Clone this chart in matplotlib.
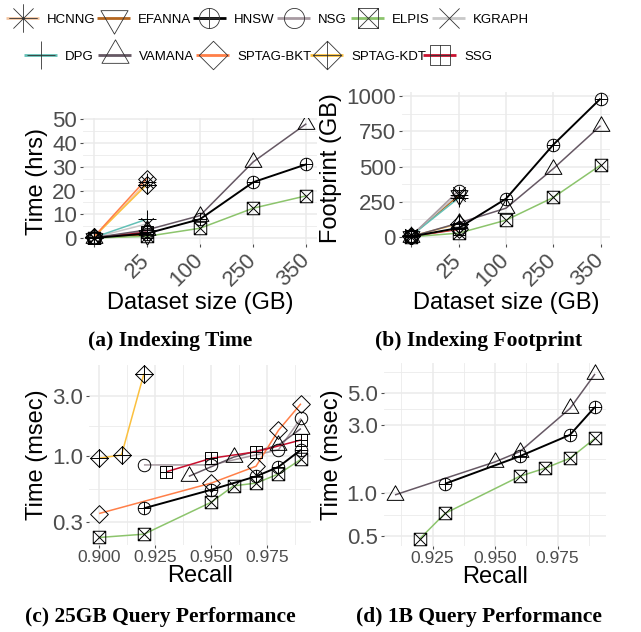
import numpy as np
import matplotlib
matplotlib.use("Agg")
import matplotlib.pyplot as plt
from matplotlib.path import Path
from matplotlib.lines import Line2D

# ---------------- data ----------------
ALGOS = ["HCNNG", "EFANNA", "HNSW", "NSG", "ELPIS", "KGRAPH",
         "DPG", "VAMANA", "SPTAG-BKT", "SPTAG-KDT", "SSG"]
COLORS = ["#F4C6A2", "#B4661F", "#000000", "#A89BA2", "#8CC46C", "#C8C8C8",
          "#62C0B6", "#665864", "#FF7F48", "#FBC03E", "#C8102E"]

SIZE_LABELS = ["", "25", "100", "250", "350"]

# (a) indexing time (hrs), by dataset size position
TIME_HCNNG = [0.3, 23.5]
TIME_EFANNA = [0.2, 1.5]
TIME_HNSW = [0.1, 2.0, 8.0, 23.5, 31.0]
TIME_NSG = [0.2, 3.0]
TIME_ELPIS = [0.1, 0.8, 4.2, 12.6, 17.8]
TIME_KGRAPH = [0.3, 6.0]
TIME_DPG = [0.3, 8.0]
TIME_VAMANA = [0.2, 3.5, 9.5, 32.0, 48.0]
TIME_BKT = [0.5, 25.0]
TIME_KDT = [0.4, 22.5]
TIME_SSG = [0.2, 2.5]

# (b) indexing footprint (GB)
FOOT_HCNNG = [12, 300]
FOOT_EFANNA = [10, 295]
FOOT_HNSW = [4, 65, 272, 655, 982]
FOOT_NSG = [10, 330]
FOOT_ELPIS = [2, 28, 120, 281, 510]
FOOT_KGRAPH = [12, 310]
FOOT_DPG = [11, 278]
FOOT_VAMANA = [4, 100, 205, 485, 790]
FOOT_BKT = [5, 60]
FOOT_KDT = [6, 95]
FOOT_SSG = [5, 55]

# (c) 25GB query performance: recall vs time (msec)
Q25_KDT_X = [0.900, 0.910, 0.920]
Q25_KDT_Y = [0.96, 1.02, 4.5]
Q25_BKT_X = [0.900, 0.950, 0.970, 0.980, 0.990]
Q25_BKT_Y = [0.35, 0.61, 0.83, 1.6, 2.6]
Q25_NSG_X = [0.920, 0.950, 0.980, 0.990]
Q25_NSG_Y = [0.85, 0.85, 1.12, 1.99]
Q25_HNSW_X = [0.920, 0.950, 0.970, 0.980, 0.990]
Q25_HNSW_Y = [0.385, 0.54, 0.69, 0.82, 1.12]
Q25_ELPIS_X = [0.900, 0.920, 0.950, 0.960, 0.970, 0.980, 0.990]
Q25_ELPIS_Y = [0.226, 0.24, 0.43, 0.58, 0.61, 0.72, 0.94]
Q25_VAMANA_X = [0.940, 0.960, 0.980, 0.990]
Q25_VAMANA_Y = [0.69, 0.98, 1.22, 1.65]
Q25_SSG_X = [0.930, 0.950, 0.970, 0.990]
Q25_SSG_Y = [0.75, 0.96, 1.08, 1.34]

# (d) 1B query performance
Q1B_VAMANA_X = [0.910, 0.950, 0.960, 0.980, 0.990]
Q1B_VAMANA_Y = [0.97, 1.65, 1.95, 3.9, 6.8]
Q1B_HNSW_X = [0.930, 0.960, 0.980, 0.990]
Q1B_HNSW_Y = [1.16, 1.81, 2.55, 4.0]
Q1B_ELPIS_X = [0.920, 0.930, 0.960, 0.970, 0.980, 0.990]
Q1B_ELPIS_Y = [0.48, 0.72, 1.31, 1.49, 1.75, 2.41]

# ---------------- ggplot-like open markers ----------------
def segs(pairs):
    verts, codes = [], []
    for a, b in pairs:
        verts += [a, b]
        codes += [Path.MOVETO, Path.LINETO]
    return Path(verts, codes)

def poly(pts):
    return Path(pts + [pts[0]], [Path.MOVETO] + [Path.LINETO] * (len(pts) - 1) + [Path.CLOSEPOLY])

S2 = np.sqrt(2)
CIRC = Path.unit_circle()
SQUARE = poly([(-1, -1), (1, -1), (1, 1), (-1, 1)])
TRI_UP = poly([(0, 1.555), (1.347, -0.778), (-1.347, -0.778)])
TRI_DN = poly([(0, -1.555), (1.347, 0.778), (-1.347, 0.778)])
DIAM = poly([(0, S2), (S2, 0), (0, -S2), (-S2, 0)])
PLUS1 = segs([((-1, 0), (1, 0)), ((0, -1), (0, 1))])
PLUS2 = segs([((-S2, 0), (S2, 0)), ((0, -S2), (0, S2))])
CROSS = segs([((-1, -1), (1, 1)), ((-1, 1), (1, -1))])

MARKERS = {
    "HCNNG": Path.make_compound_path(CROSS, PLUS2),
    "EFANNA": TRI_DN,
    "HNSW": Path.make_compound_path(CIRC, PLUS1),
    "NSG": CIRC,
    "ELPIS": Path.make_compound_path(SQUARE, CROSS),
    "KGRAPH": CROSS,
    "DPG": PLUS2,
    "VAMANA": TRI_UP,
    "SPTAG-BKT": DIAM,
    "SPTAG-KDT": Path.make_compound_path(DIAM, PLUS2),
    "SSG": Path.make_compound_path(SQUARE, PLUS1),
}

def msize(name, base):
    return base * np.max(np.abs(MARKERS[name].vertices))

COLOR_OF = dict(zip(ALGOS, COLORS))

# ---------------- figure ----------------
W, H = 641, 632
fig = plt.figure(figsize=(W / 100, H / 100), dpi=100)
plt.rcParams['font.family'] = ['Liberation Sans', 'DejaVu Sans']

def px_axes(l, t, r, b):
    return fig.add_axes([l / W, 1 - b / H, (r - l) / W, (b - t) / H])

GRID = "#EBEBEB"
TICKC = "#4D4D4D"
BASE = 9.0

def style(ax):
    for s in ax.spines.values():
        s.set_visible(False)
    ax.set_axisbelow(True)
    ax.grid(which='major', color=GRID, lw=1.1)
    ax.grid(which='minor', color=GRID, lw=0.6)
    ax.tick_params(which='major', length=2.5, width=0.8, color=TICKC, labelcolor=TICKC)
    ax.tick_params(which='minor', length=0)

def draw(ax, name, x, y, lw=1.1):
    c = COLOR_OF[name]
    ax.plot(x, y, color=c, lw=(1.4 if name == "HNSW" else lw), zorder=2, solid_capstyle='butt')
    ax.plot(x, y, ls='none', marker=MARKERS[name], ms=msize(name, BASE),
            mfc='none', mec='black', mew=0.7, zorder=3)

# (a)
axa = px_axes(83, 118, 317, 244)
style(axa)
time_series = [("HCNNG", TIME_HCNNG), ("EFANNA", TIME_EFANNA), ("KGRAPH", TIME_KGRAPH),
               ("DPG", TIME_DPG), ("NSG", TIME_NSG), ("SSG", TIME_SSG),
               ("SPTAG-KDT", TIME_KDT), ("SPTAG-BKT", TIME_BKT), ("ELPIS", TIME_ELPIS),
               ("VAMANA", TIME_VAMANA), ("HNSW", TIME_HNSW)]
for name, vals in time_series:
    draw(axa, name, np.arange(1, len(vals) + 1), vals)
axa.set_xlim(0.8, 5.2)
axa.set_ylim(-2.4, 50.4)
axa.set_yticks([0, 10, 20, 30, 40, 50])
axa.set_yticks([5, 15, 25, 35, 45], minor=True)
axa.set_xticks(np.arange(1, len(SIZE_LABELS) + 1))
axa.set_xticklabels(SIZE_LABELS, rotation=45, ha='right', va='center', rotation_mode='anchor')
axa.tick_params(axis='y', labelsize=16, pad=2)
axa.tick_params(axis='x', labelsize=16, pad=7)
axa.set_ylabel("Time (hrs)", fontsize=17, labelpad=3)
axa.set_xlabel("Dataset size (GB)", fontsize=17, labelpad=1)

# (b)
axb = px_axes(402, 92, 610, 244)
style(axb)
foot_series = [("HCNNG", FOOT_HCNNG), ("EFANNA", FOOT_EFANNA), ("KGRAPH", FOOT_KGRAPH),
               ("DPG", FOOT_DPG), ("NSG", FOOT_NSG), ("SSG", FOOT_SSG),
               ("SPTAG-KDT", FOOT_KDT), ("SPTAG-BKT", FOOT_BKT), ("ELPIS", FOOT_ELPIS),
               ("VAMANA", FOOT_VAMANA), ("HNSW", FOOT_HNSW)]
for name, vals in foot_series:
    draw(axb, name, np.arange(1, len(vals) + 1), vals)
axb.set_xlim(0.8, 5.2)
axb.set_ylim(-49, 1029)
axb.set_yticks([0, 250, 500, 750, 1000])
axb.set_yticks([125, 375, 625, 875], minor=True)
axb.set_xticks(np.arange(1, len(SIZE_LABELS) + 1))
axb.set_xticklabels(SIZE_LABELS, rotation=45, ha='right', va='center', rotation_mode='anchor')
axb.tick_params(axis='y', labelsize=16, pad=2)
axb.tick_params(axis='x', labelsize=16, pad=7)
axb.set_ylabel("Footprint (GB)", fontsize=17, labelpad=3)
axb.set_xlabel("Dataset size (GB)", fontsize=17, labelpad=1)

# (c)
axc = px_axes(89, 365, 311, 545)
style(axc)
axc.set_yscale('log')
q25 = [("NSG", Q25_NSG_X, Q25_NSG_Y), ("VAMANA", Q25_VAMANA_X, Q25_VAMANA_Y),
       ("SPTAG-KDT", Q25_KDT_X, Q25_KDT_Y), ("SPTAG-BKT", Q25_BKT_X, Q25_BKT_Y),
       ("ELPIS", Q25_ELPIS_X, Q25_ELPIS_Y), ("HNSW", Q25_HNSW_X, Q25_HNSW_Y),
       ("SSG", Q25_SSG_X, Q25_SSG_Y)]
for name, x, y in q25:
    draw(axc, name, x, y)
axc.set_xlim(0.8955, 0.9945)
axc.set_ylim(0.197, 5.27)
axc.set_yticks([0.3, 1.0, 3.0])
axc.set_yticklabels(["0.3", "1.0", "3.0"])
axc.set_yticks([0.5477, 1.732], minor=True)
axc.set_yticklabels([], minor=True)
axc.set_xticks([0.900, 0.925, 0.950, 0.975])
axc.set_xticklabels(["0.900", "0.925", "0.950", "0.975"])
axc.set_xticks([0.9125, 0.9375, 0.9625, 0.9875], minor=True)
axc.tick_params(axis='y', labelsize=16, pad=2)
axc.tick_params(axis='x', labelsize=12.5, pad=1)
axc.set_ylabel("Time (msec)", fontsize=17, labelpad=3)
axc.set_xlabel("Recall", fontsize=17, labelpad=0)

# (d)
axd = px_axes(384, 363, 606, 546)
style(axd)
axd.set_yscale('log')
q1b = [("VAMANA", Q1B_VAMANA_X, Q1B_VAMANA_Y), ("ELPIS", Q1B_ELPIS_X, Q1B_ELPIS_Y),
       ("HNSW", Q1B_HNSW_X, Q1B_HNSW_Y)]
for name, x, y in q1b:
    draw(axd, name, x, y)
axd.set_xlim(0.9056, 0.9944)
axd.set_ylim(0.426, 8.11)
axd.set_yticks([0.5, 1.0, 3.0, 5.0])
axd.set_yticklabels(["0.5", "1.0", "3.0", "5.0"])
axd.set_yticks([0.7071, 1.732, 3.873, 7.071], minor=True)
axd.set_yticklabels([], minor=True)
axd.set_xticks([0.925, 0.950, 0.975])
axd.set_xticklabels(["0.925", "0.950", "0.975"])
axd.set_xticks([0.9125, 0.9375, 0.9625, 0.9875], minor=True)
axd.tick_params(axis='y', labelsize=16, pad=2)
axd.tick_params(axis='x', labelsize=12.5, pad=1)
axd.set_ylabel("Time (msec)", fontsize=17, labelpad=3)
axd.set_xlabel("Recall", fontsize=17, labelpad=0)

# captions
cap_font = dict(family=['Liberation Serif', 'DejaVu Serif'], fontweight='bold', fontsize=15.5)
fig.text(170 / W, 1 - 341 / H, "(a) Indexing Time", ha='center', va='center', **cap_font)
fig.text(479 / W, 1 - 341 / H, "(b) Indexing Footprint", ha='center', va='center', **cap_font)
fig.text(160 / W, 1 - 617 / H, "(c) 25GB Query Performance", ha='center', va='center', **cap_font)
fig.text(479 / W, 1 - 617 / H, "(d) 1B Query Performance", ha='center', va='center', **cap_font)

# legend: one entry per legend box, placed like the reference key layout
LEG_BASE = 14.5
LEG_FS = 9.5
fs_px = LEG_FS * 100 / 72
leg_pos = {  # left x of key line (px), y centre (px)
    "HCNNG": (6, 20), "EFANNA": (97, 20), "HNSW": (193, 20), "NSG": (277, 20),
    "ELPIS": (351, 20), "KGRAPH": (432, 20),
    "DPG": (24, 57), "VAMANA": (98, 57), "SPTAG-BKT": (196, 57),
    "SPTAG-KDT": (310, 57), "SSG": (423, 57),
}
for n in ALGOS:
    h = Line2D([], [], color=COLOR_OF[n], lw=2.0, marker=MARKERS[n], ms=msize(n, LEG_BASE),
               mfc='none', mec='#333333', mew=0.6, solid_capstyle='butt')
    x0, y0 = leg_pos[n]
    fig.legend([h], [n], loc='center left', bbox_to_anchor=(x0 / W, 1 - y0 / H),
               frameon=False, borderpad=0, borderaxespad=0,
               handlelength=33 / fs_px, handletextpad=8 / fs_px,
               prop=dict(family=['Liberation Sans', 'DejaVu Sans'], size=LEG_FS))

fig.savefig("out.png", dpi=100)
